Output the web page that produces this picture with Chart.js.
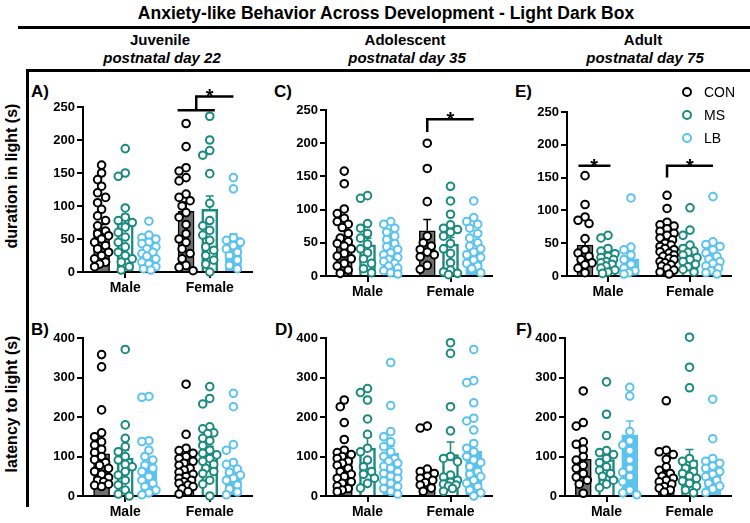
<!DOCTYPE html>
<html>
<head>
<meta charset="utf-8">
<script src="https://cdn.jsdelivr.net/npm/chart.js@4.4.1/dist/chart.umd.min.js"></script>
<style>
  body { margin: 0; background: #fff; width: 750px; height: 523px; position: relative; overflow: hidden;
         font-family: "Liberation Sans", Arial, sans-serif; font-weight: bold; color: #000; }
  .t { position: absolute; white-space: nowrap; transform: translateX(-50%); }
  .lbl { position: absolute; white-space: nowrap; font-size: 17px; }
  .rot { position: absolute; white-space: nowrap; font-size: 16px; transform: translate(-50%, -50%) rotate(-90deg); }
  .hl { position: absolute; background: #000; }
  canvas { position: absolute; }
  .leg { position: absolute; font-weight: normal; font-size: 14px; }
  .dot { position: absolute; width: 6px; height: 6px; border-radius: 50%; border: 2px solid; background: #fff; }
</style>
</head>
<body>
<div class="t" style="left:386px;top:3px;font-size:17.5px">Anxiety-like Behavior Across Development - Light Dark Box</div>
<div class="hl" style="left:18px;top:26px;width:732px;height:3px"></div>
<div class="t" style="left:160px;top:31px;font-size:15px">Juvenile</div>
<div class="t" style="left:162px;top:49px;font-size:15px;font-style:italic">postnatal day 22</div>
<div class="t" style="left:405px;top:31px;font-size:15px">Adolescent</div>
<div class="t" style="left:407px;top:49px;font-size:15px;font-style:italic">postnatal day 35</div>
<div class="t" style="left:643px;top:31px;font-size:15px">Adult</div>
<div class="t" style="left:645px;top:49px;font-size:15px;font-style:italic">postnatal day 75</div>
<div class="hl" style="left:26px;top:69px;width:724px;height:3px"></div>
<div class="hl" style="left:26px;top:69px;width:3px;height:438px"></div>
<div class="rot" style="left:12px;top:176px">duration in light (s)</div>
<div class="rot" style="left:12px;top:404px">latency to light (s)</div>

<div class="lbl" style="left:31px;top:82px">A)</div>
<div class="lbl" style="left:274px;top:82px">C)</div>
<div class="lbl" style="left:515px;top:82px">E)</div>
<div class="lbl" style="left:31px;top:320px">B)</div>
<div class="lbl" style="left:275px;top:320px">D)</div>
<div class="lbl" style="left:516px;top:320px">F)</div>

<canvas id="cA"></canvas>
<canvas id="cB"></canvas>
<canvas id="cC"></canvas>
<canvas id="cD"></canvas>
<canvas id="cE"></canvas>
<canvas id="cF"></canvas>

<div class="dot" style="left:682px;top:87px;border-color:#000"></div>
<div class="leg" style="left:704px;top:84px">CON</div>
<div class="dot" style="left:682px;top:110px;border-color:#1b8a7f"></div>
<div class="leg" style="left:704px;top:107px">MS</div>
<div class="dot" style="left:682px;top:133px;border-color:#5cc3ee"></div>
<div class="leg" style="left:704px;top:130px">LB</div>

<script>
const sexes = ["Male", "Female"];
const groups = ["CON", "MS", "LB"];

// A) juvenile, duration in light
const juvDurMean = [[64, 92], [75, 95], [34, 52]];
const juvDurSem = [[8, 14], [12, 20], [5, 6]];
const juvDurCON = [[162,150,140,130,120,113,105,95,85,78,70,62,58,55,50,45,40,35,30,25,20,15,12,8],
                   [225,190,158,153,143,138,118,113,108,100,90,83,72,58,50,45,35,28,20,10,7,2]];
const juvDurMS = [[187,150,145,97,83,78,75,68,60,53,45,38,30,25,20,15,8,3],
                  [236,200,184,177,149,104,78,70,63,56,48,38,33,25,18,12,0]];
const juvDurLB = [[77,56,52,50,45,43,38,35,30,28,24,20,15,12,8,5,3],
                  [143,126,52,48,45,40,35,30,25,18,10,5]];

// B) juvenile, latency to light
const juvLatMean = [[107, 68], [96, 110], [77, 67]];
const juvLatSem = [[18, 13], [20, 16], [18, 18]];
const juvLatCON = [[358,327,218,160,150,137,129,118,110,100,92,85,78,70,62,55,47,40,36,30,27,24],
                   [283,156,121,115,108,100,95,88,83,78,70,66,60,55,49,45,40,36,32,28,24,18,11,5]];
const juvLatMS = [[371,180,146,125,112,100,91,80,74,62,53,40,28,15,5,0],
                  [277,247,233,175,170,160,158,146,140,128,116,108,104,95,88,80,70,62,57,40,30,0]];
const juvLatLB = [[252,250,140,138,116,100,91,78,70,62,49,40,32,24,15,8,3],
                  [260,226,130,116,85,80,68,60,53,45,40,28,18,10,3]];

// C) adolescent, duration in light
const adoDurMean = [[52, 68], [47, 48], [30, 30]];
const adoDurSem = [[9, 17], [10, 10], [5, 6]];
const adoDurCON = [[158,139,101,94,87,82,78,73,64,57,52,49,45,41,34,30,26,19,15,9,4],
                   [200,162,112,60,50,45,40,36,32,29,16,10]];
const adoDurMS = [[121,117,79,72,64,57,48,41,35,26,19,11,5],
                  [135,113,93,77,72,70,66,60,49,41,34,20,9,6,4,2]];
const adoDurLB = [[82,78,72,66,60,55,49,44,40,35,32,28,25,22,19,15,12,8,5,3],
                  [113,88,82,78,72,64,57,50,45,41,36,32,28,24,19,15,11,5]];

// D) adolescent, latency to light
const adoLatMean = [[98, 57], [121, 105], [108, 114]];
const adoLatSem = [[18, 12], [28, 32], [18, 22]];
const adoLatCON = [[418,243,226,186,143,116,110,105,100,95,88,83,78,70,62,55,49,45,36,32,25,19,15,11],
                   [177,172,68,62,57,50,45,40,34,28,20,12]];
const adoLatMS = [[272,262,243,195,156,121,112,91,74,62,55,45,32,20],
                  [388,361,226,165,100,95,87,53,48,40,35,30,28,25,19,12]];
const adoLatLB = [[420,418,338,229,163,150,137,125,112,100,95,88,83,75,70,62,57,50,45,38,32,24,19,12,5],
                  [371,292,287,236,197,190,167,133,121,112,100,91,85,74,62,55,49,40,32,24,15,8,0]];

// E) adult, duration in light
const aduDurMean = [[47, 45], [23, 35], [26, 27]];
const aduDurSem = [[11, 5], [4, 5], [10, 5]];
const aduDurCON = [[153,109,90,85,80,57,40,35,30,25,20,17,12,5],
                   [123,103,82,78,76,72,68,65,62,58,55,50,47,45,42,40,37,35,32,30,27,25,22,20,17,15,12,9,6,3]];
const aduDurMS = [[62,58,42,38,34,30,28,25,22,20,18,15,12,9,6,4],
                  [104,70,62,47,42,38,36,32,28,25,22,18,14,10,6]];
const aduDurLB = [[119,44,40,32,25,18,12,8,5,3],
                  [121,52,48,45,40,35,30,26,22,19,15,12,8,5,3]];

// F) adult, latency to light
const aduLatMean = [[93, 50], [92, 91], [155, 63]];
const aduLatSem = [[18, 12], [17, 27], [35, 15]];
const aduLatCON = [[266,186,177,137,131,118,100,91,78,70,57,48,40,30,7],
                   [241,116,112,105,93,74,65,57,50,45,40,36,30,24,20,15,10]];
const aduLatMS = [[289,207,153,115,110,105,95,85,74,65,57,50,40,30,21],
                  [402,326,274,95,88,80,70,62,57,50,45,38,32,25,15,8]];
const aduLatLB = [[420,420,420,275,253,163,140,129,115,91,70,60,49,36,15,8,3],
                  [245,145,95,88,83,76,70,62,55,49,40,32,25,18,9]];

const barFill = ["#707070", "#ffffff", "#5cc3ee"];
const edge = ["#000000", "#1b8a7f", "#5cc3ee"];
const S = 0.28;        // spacing between the three bars, in category units

Chart.defaults.font.family = '"Liberation Sans", Arial, sans-serif';
Chart.defaults.color = "#000";

// spread points sideways so they don't sit on top of each other
function swarm(vals, pxX, pxY) {
  const cand = [0, -4, 4, -7, 7, -2, 2, -5.5, 5.5];
  const placed = [];
  return vals.map(v => {
    const py = v * pxY;
    let best = 0, bestD = -1;
    for (const c of cand) {
      let d = Infinity;
      placed.forEach(p => { d = Math.min(d, Math.hypot(p[0] - c, p[1] - py)); });
      if (d >= 7) { best = c; bestD = d; break; }
      if (d > bestD) { bestD = d; best = c; }
    }
    placed.push([best, py]);
    return best / pxX;
  });
}

const errPlugin = {
  id: "errbars",
  afterDatasetDraw(chart, args) {
    const ds = chart.data.datasets[args.index];
    if (!ds.sem) return;
    const ctx = chart.ctx, y = chart.scales.y;
    ctx.save();
    ctx.strokeStyle = ds.errColor;
    ctx.lineWidth = 1.5;
    args.meta.data.forEach((bar, i) => {
      const top = y.getPixelForValue(ds.data[i].y + ds.sem[i]);
      ctx.beginPath();
      ctx.moveTo(bar.x, bar.y);
      ctx.lineTo(bar.x, top);
      ctx.moveTo(bar.x - 4, top);
      ctx.lineTo(bar.x + 4, top);
      ctx.stroke();
    });
    ctx.restore();
  }
};

const bracketPlugin = {
  id: "brackets",
  afterDraw(chart, args, opts) {
    const ctx = chart.ctx, x = chart.scales.x, y = chart.scales.y;
    ctx.save();
    ctx.strokeStyle = "#000";
    ctx.lineWidth = 2.5;
    (opts.lines || []).forEach(line => {
      ctx.beginPath();
      line.forEach((p, i) => {
        const px = x.getPixelForValue(p[0]), py = y.getPixelForValue(p[1]);
        if (i === 0) ctx.moveTo(px, py); else ctx.lineTo(px, py);
      });
      ctx.stroke();
    });
    ctx.fillStyle = "#000";
    ctx.font = 'bold 20px "Liberation Sans", Arial, sans-serif';
    ctx.textAlign = "center";
    ctx.textBaseline = "alphabetic";
    (opts.stars || []).forEach(p => {
      ctx.fillText("*", x.getPixelForValue(p[0]), y.getPixelForValue(p[1]) + 7);
    });
    ctx.restore();
  }
};

function panel(id, area, yMax, means, sems, dots, brackets) {
  const [l, t, r, b] = area;
  const cv = document.getElementById(id);
  const left = l - 53, top = t - 28;
  cv.width = r + 8 - left;
  cv.height = b + 30 - top;
  cv.style.left = left + "px";
  cv.style.top = top + "px";
  const pxX = (r - l) / 2, pxY = (b - t) / yMax;

  const datasets = [];
  groups.forEach((g, k) => {
    datasets.push({
      type: "bar", label: g,
      data: means[k].map((m, i) => ({ x: i + (k - 1) * S, y: m })),
      sem: sems[k], errColor: edge[k],
      backgroundColor: barFill[k], borderColor: edge[k], borderWidth: k === 1 ? 2.5 : 1.5,
      grouped: false, barThickness: 16, order: 2
    });
  });
  groups.forEach((g, k) => {
    const pts = [];
    dots[k].forEach((vals, i) => {
      const jit = swarm(vals, pxX, pxY);
      vals.forEach((v, j) => pts.push({ x: i + (k - 1) * S + jit[j], y: v }));
    });
    datasets.push({
      type: "scatter", label: g + " dots", data: pts,
      pointRadius: 3.8, pointBorderWidth: 2, pointBorderColor: edge[k],
      pointBackgroundColor: "#fff", clip: false, order: 1
    });
  });

  new Chart(cv, {
    type: "bar",
    data: { datasets },
    options: {
      responsive: false, animation: false, events: [],
      layout: { padding: { top: 28, right: 8, left: 0, bottom: 0 } },
      plugins: { legend: { display: false }, tooltip: { enabled: false }, brackets },
      scales: {
        x: {
          type: "linear", min: -0.5, max: 1.5, offset: false,
          afterBuildTicks: s => { s.ticks = [{ value: 0 }, { value: 1 }]; },
          grid: { drawOnChartArea: false, offset: false, tickLength: 6, color: "#000", lineWidth: 2 },
          border: { color: "#000", width: 2 },
          ticks: { font: { size: 14, weight: "bold" }, padding: 2, callback: v => sexes[v] },
          afterFit: s => { s.height = 30; }
        },
        y: {
          min: 0, max: yMax,
          ticks: { stepSize: yMax === 250 ? 50 : 100, font: { size: 13, weight: "bold" }, padding: 2 },
          grid: { drawOnChartArea: false, tickLength: 6, color: "#000", lineWidth: 2 },
          border: { color: "#000", width: 2 },
          afterFit: s => { s.width = 53; }
        }
      }
    },
    plugins: [errPlugin, bracketPlugin]
  });
}

panel("cA", [83, 107, 252, 272], 250, juvDurMean, juvDurSem, [juvDurCON, juvDurMS, juvDurLB], {
  lines: [[[1 - S - 0.1, 245], [1 + 0.06, 245]], [[1 - S / 2 - 0.02, 245], [1 - S / 2 - 0.02, 266], [1 + S, 266]]],
  stars: [[1.0, 266]]
});
panel("cB", [83, 338, 252, 496], 400, juvLatMean, juvLatSem, [juvLatCON, juvLatMS, juvLatLB], {});
panel("cC", [326, 110, 492, 276], 250, adoDurMean, adoDurSem, [adoDurCON, adoDurMS, adoDurLB], {
  lines: [[[1 - S, 217], [1 - S, 236], [1 + S, 236]]],
  stars: [[1.0, 236]]
});
panel("cD", [326, 338, 492, 496], 400, adoLatMean, adoLatSem, [adoLatCON, adoLatMS, adoLatLB], {});
panel("cE", [567, 112, 731, 276], 250, aduDurMean, aduDurSem, [aduDurCON, aduDurMS, aduDurLB], {
  lines: [[[-S - 0.08, 168], [0.03, 168]], [[1 - S, 150], [1 - S, 168], [1 + S, 168]]],
  stars: [[-S / 2 - 0.03, 168], [1.0, 168]]
});
panel("cF", [565, 338, 731, 496], 400, aduLatMean, aduLatSem, [aduLatCON, aduLatMS, aduLatLB], {});
</script>
</body>
</html>
